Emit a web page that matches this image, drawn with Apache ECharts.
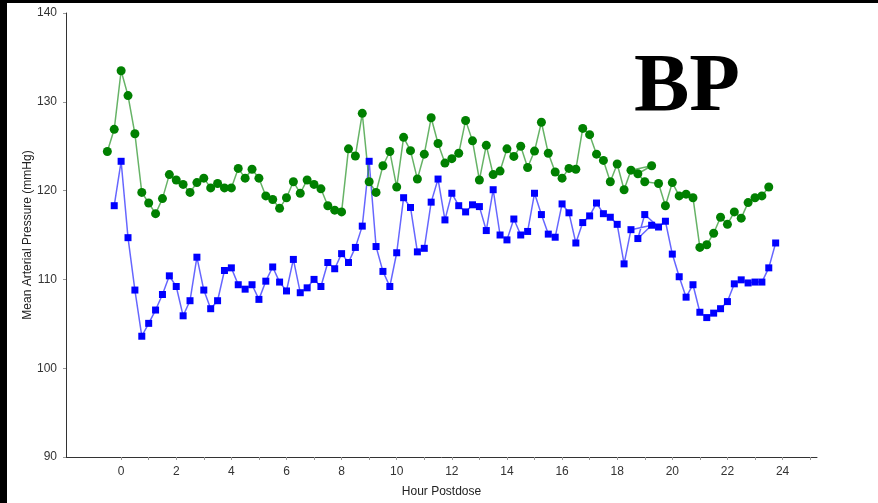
<!DOCTYPE html>
<html>
<head>
<meta charset="utf-8">
<script src="https://cdn.jsdelivr.net/npm/echarts@6/dist/echarts.min.js"></script>
<style>
html,body{margin:0;padding:0;background:#fff;}
#main{width:878px;height:503px;}
</style>
</head>
<body>
<div id="main"></div>
<script>
// Hours postdose (order as recorded) and values
var greenHours = [-0.5,-0.25,0,0.25,0.5,0.75,1,1.25,1.5,1.75,2,2.25,2.5,2.75,3,3.25,3.5,3.75,4,4.25,4.5,4.75,5,5.25,5.5,5.75,6,6.25,6.5,6.75,7,7.25,7.5,7.75,8,8.25,8.5,8.75,9,9.25,9.5,9.75,10,10.25,10.5,10.75,11,11.25,11.5,11.75,12,12.25,12.5,12.75,13,13.25,13.5,13.75,14,14.25,14.5,14.75,15,15.25,15.5,15.75,16,16.25,16.5,16.75,17,17.25,17.5,17.75,18,18.25,18.5,19.25,18.75,19,19.5,19.75,20,20.25,20.5,20.75,21,21.25,21.5,21.75,22,22.25,22.5,22.75,23,23.25,23.5];
var greenValues = [124.4,126.9,133.5,130.7,126.4,119.8,118.6,117.4,119.1,121.8,121.2,120.7,119.8,120.9,121.4,120.3,120.8,120.3,120.3,122.5,121.4,122.4,121.4,119.4,119.0,118.0,119.2,121.0,119.7,121.2,120.7,120.2,118.3,117.8,117.6,124.7,123.9,128.7,121.0,119.8,122.8,124.4,120.4,126.0,124.5,121.3,124.1,128.2,125.3,123.1,123.6,124.2,127.9,125.6,121.2,125.1,121.8,122.2,124.7,123.85,125.0,122.6,124.45,127.7,124.2,122.1,121.4,122.5,122.4,127.0,126.3,124.1,123.4,121.0,123.0,120.1,122.3,122.8,121.9,121.0,120.8,118.3,120.9,119.4,119.6,119.2,113.6,113.9,115.2,117.0,116.2,117.6,116.9,118.65,119.2,119.4,120.4];

var blueHours = [-0.25,0,0.25,0.5,0.75,1,1.25,1.5,1.75,2,2.25,2.5,2.75,3,3.25,3.5,3.75,4,4.25,4.5,4.75,5,5.25,5.5,5.75,6,6.25,6.5,6.75,7,7.25,7.5,7.75,8,8.25,8.5,8.75,9,9.25,9.5,9.75,10,10.25,10.5,10.75,11,11.25,11.5,11.75,12,12.25,12.5,12.75,13,13.25,13.5,13.75,14,14.25,14.5,14.75,15,15.25,15.5,15.75,16,16.25,16.5,16.75,17,17.25,17.5,17.75,18,18.25,18.5,19.25,18.75,19,19.5,19.75,20,20.25,20.5,20.75,21,21.25,21.5,21.75,22,22.25,22.5,22.75,23,23.25,23.5,23.75];
var blueValues = [118.3,123.3,114.7,108.8,103.6,105.05,106.55,108.3,110.4,109.2,105.9,107.6,112.5,108.8,106.7,107.6,111.0,111.3,109.4,108.9,109.4,107.75,109.8,111.4,109.7,108.7,112.25,108.5,109.05,110.0,109.2,111.9,111.2,112.9,111.9,113.6,116.0,123.3,113.7,110.9,109.2,113.0,119.2,118.1,113.1,113.5,118.7,121.3,116.7,119.7,118.3,117.6,118.4,118.2,115.5,120.1,115.0,114.45,116.8,115.0,115.4,119.7,117.3,115.1,114.75,118.5,117.5,114.1,116.4,117.15,118.6,117.4,117.0,116.2,111.75,115.6,116.1,114.6,117.3,115.9,116.55,112.85,110.3,108.0,109.4,106.3,105.7,106.2,106.7,107.5,109.5,109.95,109.6,109.7,109.7,111.3,114.1];

var xLabelTicks = [0,2,4,6,8,10,12,14,16,18,20,22,24];
var xMinorTicks = [0,1,2,3,4,5,6,7,8,9,10,11,12,13,14,15,16,17,18,19,20,21,22,23,24,25];
var yTicks = [90,100,110,120,130,140];
var titleText = 'BP';
var xName = 'Hour Postdose';
var yName = 'Mean Arterial Pressure (mmHg)';

function pairs(xs, ys){ var out=[]; for (var i=0;i<xs.length;i++) out.push([xs[i], ys[i]]); return out; }

var chart = echarts.init(document.getElementById('main'), null, {renderer:'canvas'});
var font = 'Liberation Sans';
chart.setOption({
  animation: false,
  backgroundColor: '#ffffff',
  title: {
    text: titleText, left: 634, top: 47, padding: 0,
    textStyle: {fontFamily: 'Liberation Serif', fontWeight: 'bold', fontSize: 83, color: '#000'}
  },
  grid: {left: 66, right: 61, top: 13, bottom: 45, containLabel: false},
  xAxis: {
    type: 'value', min: -2, max: 25.25,
    name: xName, nameLocation: 'middle', nameGap: 29, nameMoveOverlap: false,
    nameTextStyle: {fontFamily: font, fontSize: 12, color: '#222'},
    axisLine: {show: true, onZero: false, lineStyle: {color: '#333', width: 1}},
    axisTick: {show: true, customValues: xMinorTicks, length: 3, lineStyle: {color: '#999'}},
    axisLabel: {customValues: xLabelTicks, margin: 9, fontFamily: font, fontSize: 12, color: '#333'},
    splitLine: {show: false}
  },
  yAxis: {
    type: 'value', min: 90, max: 140, interval: 10,
    name: yName, nameLocation: 'middle', nameGap: 32, nameRotate: 90, nameMoveOverlap: false,
    nameTextStyle: {fontFamily: font, fontSize: 12, color: '#222'},
    axisLine: {show: true, onZero: false, lineStyle: {color: '#333', width: 1}},
    axisTick: {show: true, customValues: yTicks, length: 3, lineStyle: {color: '#999'}},
    axisLabel: {customValues: yTicks, margin: 9, fontFamily: font, fontSize: 12, color: '#333'},
    splitLine: {show: false}
  },
  series: [
    {
      type: 'line', name: 'blue', data: pairs(blueHours, blueValues),
      symbol: 'rect', symbolSize: 7, showAllSymbol: true,
      itemStyle: {color: '#0000ff'},
      lineStyle: {color: '#0000ff', width: 1.5, opacity: 0.6}
    },
    {
      type: 'line', name: 'green', data: pairs(greenHours, greenValues),
      symbol: 'circle', symbolSize: 9, showAllSymbol: true,
      itemStyle: {color: '#008000'},
      lineStyle: {color: '#008000', width: 1.5, opacity: 0.6}
    }
  ],
  graphic: [
    {type: 'rect', left: 0, top: 0, shape: {width: 878, height: 3}, style: {fill: '#000'}, z: 100},
    {type: 'rect', left: 0, top: 0, shape: {width: 7, height: 503}, style: {fill: '#000'}, z: 100}
  ]
});
</script>
</body>
</html>
